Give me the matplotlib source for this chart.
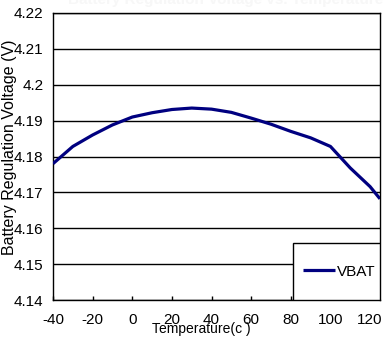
import matplotlib
matplotlib.use("Agg")
import matplotlib.pyplot as plt
from matplotlib.patches import Rectangle

plt.rcParams['font.family'] = ['Liberation Sans', 'DejaVu Sans']
plt.rcParams['axes.unicode_minus'] = False

temperature = [-40, -30, -20, -10, 0, 10, 20, 30, 40, 50, 60, 70, 80, 90, 100, 110, 120, 125]
vbat = [4.178, 4.1828, 4.186, 4.1888, 4.191, 4.1922, 4.1931, 4.1935, 4.1932, 4.1923,
        4.1907, 4.189, 4.187, 4.1852, 4.1828, 4.1768, 4.1716, 4.1682]
x_ticks = [-40, -20, 0, 20, 40, 60, 80, 100, 120]
y_ticks = [4.14, 4.15, 4.16, 4.17, 4.18, 4.19, 4.2, 4.21, 4.22]
y_tick_labels = ['4.14', '4.15', '4.16', '4.17', '4.18', '4.19', '4.2', '4.21', '4.22']

W, H = 387, 342
fig = plt.figure(figsize=(W / 100, H / 100), dpi=100)
ax = fig.add_axes([53 / W, 1 - 300 / H, (380 - 53) / W, (300 - 13) / H])

ax.set_xlim(-40, 125)
ax.set_ylim(4.14, 4.22)
ax.set_yticks(y_ticks)
ax.set_yticklabels(y_tick_labels)
ax.set_xticks(x_ticks)
ax.yaxis.grid(True, color='black', linewidth=1.0)
ax.set_axisbelow(True)
ax.tick_params(axis='y', length=0, pad=7, labelsize=11)
ax.tick_params(axis='x', direction='in', length=3, width=1, pad=9.5, labelsize=11)
for s in ax.spines.values():
    s.set_color('black')
    s.set_linewidth(1.0)

ax.plot(temperature, vbat, color='#000080', linewidth=2.3, solid_capstyle='butt',
        label='VBAT', zorder=3)

# legend box in the lower-right corner
ax.add_patch(Rectangle((0.734, 0.0), 0.266, 0.199, transform=ax.transAxes,
                       facecolor='white', edgecolor='black', linewidth=1.0, zorder=4))
leg = ax.legend(loc='center', bbox_to_anchor=(0.876, 0.099), frameon=False,
                fontsize=11, handlelength=2.1, handletextpad=0.15, borderpad=0,
                borderaxespad=0)
leg.set_zorder(5)

fig.text(10 / W, 1 - 147 / H, 'Battery Regulation Voltage (V)', rotation=90,
         ha='center', va='center', fontsize=11.5)
fig.text(201 / W, 1 - 329 / H, 'Temperature(c )', ha='center', va='center', fontsize=10)
fig.text(226 / W, 1 - 0 / H, 'Battery Regulation Voltage vs. Temperature', ha='center',
         va='center', fontsize=11, fontweight='bold', color='#f7f7f7')

fig.savefig('out.png', dpi=100)
